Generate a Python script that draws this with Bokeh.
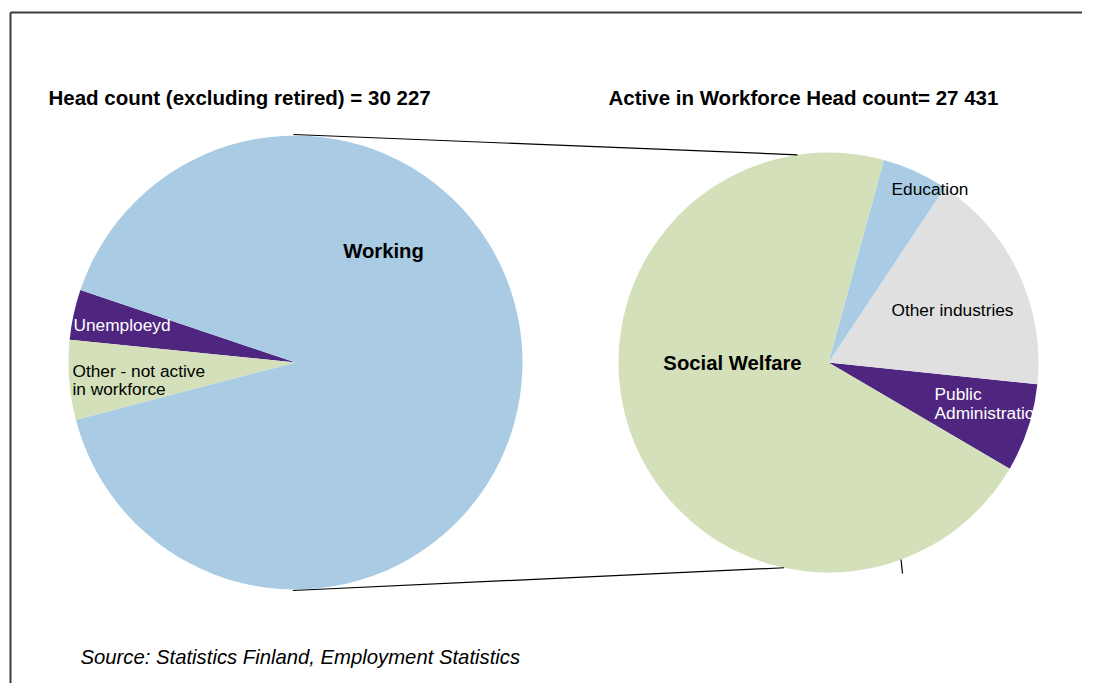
import math
from bokeh.plotting import figure
from bokeh.models import Range1d, ColumnDataSource
from bokeh.core.properties import value
from bokeh.embed import file_html
from bokeh.resources import INLINE

# ---------------- data ----------------
left_categories = ["Unemploeyd", "Other - not active in workforce", "Working"]
left_values = [1080, 1716, 27431]
left_colors = ["#4F267F", "#D3E0B9", "#A9CCE4"]

right_categories = ["Public Administration", "Other industries", "Education", "Social Welfare"]
right_values = [1862, 4750, 1396, 19423]
right_colors = ["#4F267F", "#E0E0E0", "#A9CCE4", "#D3E0B9"]

title_left = "Head count (excluding retired) = 30 227"
title_right = "Active in Workforce Head count= 27 431"
source_text = "Source: Statistics Finland, Employment Statistics"

# ---------------- layout (pixel-like data space, y up) ----------------
W, H = 1082, 683
H_REF = 699  # reference height, y_data = H_REF - y_pixel

def py(ypix):
    return H_REF - ypix

L_CX, L_CY, L_R, L_START = 295, py(362), 227, 161.4
R_CX, R_CY, R_R, R_START = 828, py(362), 210, -30.4

p = figure(width=W, height=H, output_backend="svg", toolbar_location=None,
           x_range=Range1d(0, W), y_range=Range1d(H_REF - H, H_REF),
           min_border=0, outline_line_color=None)
p.axis.visible = False
p.grid.visible = False
p.background_fill_color = "white"
p.border_fill_color = "white"


def wedges(cx, cy, r, start_deg, vals, colors):
    total = float(sum(vals))
    starts, ends = [], []
    a = math.radians(start_deg)
    for v in vals:
        starts.append(a)
        a += 2 * math.pi * v / total
        ends.append(a)
    src = ColumnDataSource(dict(start=starts, end=ends, color=colors))
    p.wedge(x=cx, y=cy, radius=r, start_angle="start", end_angle="end",
            direction="anticlock", fill_color="color", line_color=None, source=src)


wedges(L_CX, L_CY, L_R, L_START, left_values, left_colors)
wedges(R_CX, R_CY, R_R, R_START, right_values, right_colors)


def pt(cx, cy, r, deg):
    return cx + r * math.cos(math.radians(deg)), cy + r * math.sin(math.radians(deg))

# connector lines
a1 = pt(L_CX, L_CY, L_R + 1, 90.5)
b1 = pt(R_CX, R_CY, R_R, 98.5)
a2 = pt(L_CX, L_CY, L_R + 1, 269.3)
b2 = pt(R_CX, R_CY, R_R, 257.8)
p.line([a1[0], b1[0]], [a1[1], b1[1]], line_color="black", line_width=1.2)
p.line([a2[0], b2[0]], [a2[1], b2[1]], line_color="black", line_width=1.2)
# small leader stub
p.line([900.5, 902], [py(559), py(573)], line_color="black", line_width=1.2)

# chart border (top and left)
p.line([10, 1100], [py(12), py(12)], line_color="#3a3a3a", line_width=2)
p.line([10, 10], [py(12), py(720)], line_color="#3a3a3a", line_width=2)

FONT = value("Liberation Sans")

def txt(x, y, s, size, color="black", style="normal", align="left"):
    p.text(x=[x], y=[py(y)], text=[s], text_font=FONT, text_font_size=f"{size}px",
           text_color=color, text_font_style=style, text_align=align,
           text_baseline="middle")

txt(48, 97, title_left, 20.5, style="bold")
txt(608, 97, title_right, 20.5, style="bold")

txt(383, 250, left_categories[2], 20.3, style="bold", align="center")
txt(73, 324, left_categories[0], 17.3, color="white")
txt(72, 370, "Other - not active", 17.3)
txt(72, 388, "in workforce", 17.3)

txt(732, 362, right_categories[3], 20.3, style="bold", align="center")
txt(891, 188, right_categories[2], 17.3)
txt(891, 309, right_categories[1], 17.3)
txt(934, 393, "Public", 17.3, color="white")
txt(934, 412, "Administration", 17.3, color="white")

txt(80, 656, source_text, 20.3, style="italic")

open("out.html", "w").write(file_html(p, INLINE))
